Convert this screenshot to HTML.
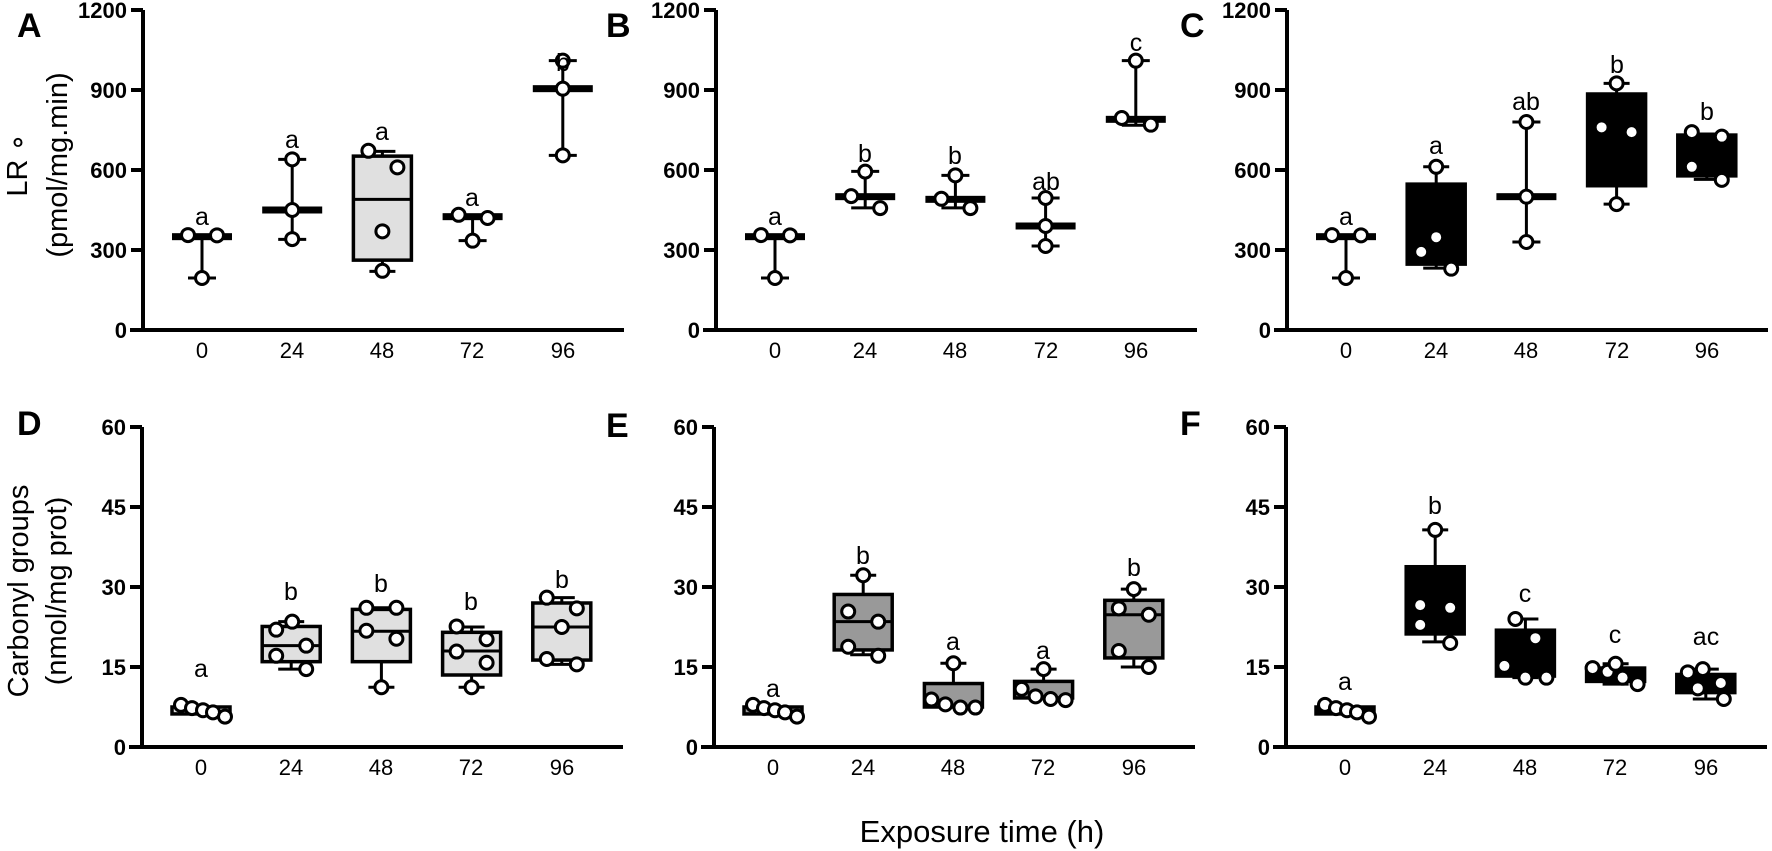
<!DOCTYPE html>
<html><head><meta charset="utf-8"><style>
html,body{margin:0;padding:0;background:#fff;}
svg{display:block;}
.tk{font-family:"Liberation Sans",Arial,sans-serif;font-weight:bold;font-size:22px;text-anchor:end;}
.xl{font-family:"Liberation Sans",Arial,sans-serif;font-size:22px;text-anchor:middle;}
.lt{font-family:"Liberation Sans",Arial,sans-serif;font-size:25px;text-anchor:middle;}
.pl{font-family:"Liberation Sans",Arial,sans-serif;font-weight:bold;font-size:34px;}
.yt{font-family:"Liberation Sans",Arial,sans-serif;font-size:29px;text-anchor:middle;}
</style></head><body>
<svg id="s" width="1772" height="851" xmlns="http://www.w3.org/2000/svg">
<g id="shapes"></g>
<!-- panel labels -->
<text class="pl" x="17" y="37">A</text>
<text class="pl" x="606" y="37">B</text>
<text class="pl" x="1180" y="37">C</text>
<text class="pl" x="17" y="435">D</text>
<text class="pl" x="606" y="437">E</text>
<text class="pl" x="1180" y="435">F</text>
<!-- y titles -->
<text class="yt" transform="translate(18,165) rotate(-90)" dominant-baseline="central">LR ∘</text>
<text class="yt" transform="translate(58,165) rotate(-90)" dominant-baseline="central">(pmol/mg.min)</text>
<text class="yt" transform="translate(19,591) rotate(-90)" dominant-baseline="central">Carbonyl groups</text>
<text class="yt" transform="translate(57,591) rotate(-90)" dominant-baseline="central">(nmol/mg prot)</text>
<!-- x title -->
<text class="yt" x="982" y="842" style="font-size:31px">Exposure time (h)</text>
<!-- top tick labels A -->
<text class="tk" x="127" y="18">1200</text><text class="tk" x="127" y="98">900</text><text class="tk" x="127" y="178">600</text><text class="tk" x="127" y="258">300</text><text class="tk" x="127" y="338">0</text>
<text class="tk" x="700" y="18">1200</text><text class="tk" x="700" y="98">900</text><text class="tk" x="700" y="178">600</text><text class="tk" x="700" y="258">300</text><text class="tk" x="700" y="338">0</text>
<text class="tk" x="1271" y="18">1200</text><text class="tk" x="1271" y="98">900</text><text class="tk" x="1271" y="178">600</text><text class="tk" x="1271" y="258">300</text><text class="tk" x="1271" y="338">0</text>
<!-- bottom tick labels -->
<text class="tk" x="126" y="435">60</text><text class="tk" x="126" y="515">45</text><text class="tk" x="126" y="595">30</text><text class="tk" x="126" y="675">15</text><text class="tk" x="126" y="755">0</text>
<text class="tk" x="698" y="435">60</text><text class="tk" x="698" y="515">45</text><text class="tk" x="698" y="595">30</text><text class="tk" x="698" y="675">15</text><text class="tk" x="698" y="755">0</text>
<text class="tk" x="1270" y="435">60</text><text class="tk" x="1270" y="515">45</text><text class="tk" x="1270" y="595">30</text><text class="tk" x="1270" y="675">15</text><text class="tk" x="1270" y="755">0</text>
<!-- x tick labels -->
<text class="xl" x="202" y="358">0</text><text class="xl" x="292" y="358">24</text><text class="xl" x="382" y="358">48</text><text class="xl" x="472" y="358">72</text><text class="xl" x="563" y="358">96</text>
<text class="xl" x="775" y="358">0</text><text class="xl" x="865" y="358">24</text><text class="xl" x="955" y="358">48</text><text class="xl" x="1046" y="358">72</text><text class="xl" x="1136" y="358">96</text>
<text class="xl" x="1346" y="358">0</text><text class="xl" x="1436" y="358">24</text><text class="xl" x="1526" y="358">48</text><text class="xl" x="1617" y="358">72</text><text class="xl" x="1707" y="358">96</text>
<text class="xl" x="201" y="775">0</text><text class="xl" x="291" y="775">24</text><text class="xl" x="381" y="775">48</text><text class="xl" x="471" y="775">72</text><text class="xl" x="562" y="775">96</text>
<text class="xl" x="773" y="775">0</text><text class="xl" x="863" y="775">24</text><text class="xl" x="953" y="775">48</text><text class="xl" x="1043" y="775">72</text><text class="xl" x="1134" y="775">96</text>
<text class="xl" x="1345" y="775">0</text><text class="xl" x="1435" y="775">24</text><text class="xl" x="1525" y="775">48</text><text class="xl" x="1615" y="775">72</text><text class="xl" x="1706" y="775">96</text>
<!-- significance letters -->
<text class="lt" x="202" y="225">a</text><text class="lt" x="292" y="148">a</text><text class="lt" x="382" y="140">a</text><text class="lt" x="472" y="206">a</text><text class="lt" x="563" y="71">b</text>
<text class="lt" x="775" y="225">a</text><text class="lt" x="865" y="162">b</text><text class="lt" x="955" y="164">b</text><text class="lt" x="1046" y="190">ab</text><text class="lt" x="1136" y="51">c</text>
<text class="lt" x="1346" y="225">a</text><text class="lt" x="1436" y="154">a</text><text class="lt" x="1526" y="110">ab</text><text class="lt" x="1617" y="73">b</text><text class="lt" x="1707" y="120">b</text>
<text class="lt" x="201" y="677">a</text><text class="lt" x="291" y="600">b</text><text class="lt" x="381" y="592">b</text><text class="lt" x="471" y="610">b</text><text class="lt" x="562" y="588">b</text>
<text class="lt" x="773" y="697">a</text><text class="lt" x="863" y="564">b</text><text class="lt" x="953" y="650">a</text><text class="lt" x="1043" y="659">a</text><text class="lt" x="1134" y="576">b</text>
<text class="lt" x="1345" y="690">a</text><text class="lt" x="1435" y="514">b</text><text class="lt" x="1525" y="602">c</text><text class="lt" x="1615" y="643">c</text><text class="lt" x="1706" y="645">ac</text>
</svg>
<script>
(function(){
var g=document.getElementById('shapes'),NS='http://www.w3.org/2000/svg';
function el(t,a){var e=document.createElementNS(NS,t);for(var k in a)e.setAttribute(k,a[k]);g.appendChild(e);return e;}
function ln(x1,y1,x2,y2,w){el('line',{x1:x1,y1:y1,x2:x2,y2:y2,stroke:'#000','stroke-width':w||3});}
function axes(ax,top,bot){
 ln(ax,top,ax,bot+2,4); ln(ax-13,bot,ax+481,bot,4);
 for(var i=0;i<5;i++){var y=top+(bot-top)*i/4; ln(ax-12,y,ax,y,4);}
}
function panel(ax,top,bot,max,fill,groups){
 axes(ax,top,bot);
 var sc=(bot-top)/max; function Y(v){return bot-v*sc;}
 groups.forEach(function(gr,i){
  var c=ax+59+90.2*i;
  var lo=gr.lo,hi=gr.hi;
  if(gr.box){
   ln(c,Y(hi),c,Y(gr.box[1]),3); ln(c,Y(gr.box[0]),c,Y(lo),3);
   ln(c-13,Y(hi),c+13,Y(hi),3); ln(c-13,Y(lo),c+13,Y(lo),3);
   el('rect',{x:c-29,y:Y(gr.box[1]),width:58,height:Y(gr.box[0])-Y(gr.box[1]),fill:fill,stroke:'#000','stroke-width':3.5});
   if(gr.med!=null) ln(c-29,Y(gr.med),c+29,Y(gr.med),3);
  } else {
   ln(c,Y(hi),c,Y(lo),3);
   ln(c-14,Y(hi),c+14,Y(hi),3); ln(c-14,Y(lo),c+14,Y(lo),3);
   el('rect',{x:c-30,y:Y(gr.med)-3.5,width:60,height:7,fill:'#000'});
  }
  gr.p.forEach(function(p){el('circle',{cx:c+p[0],cy:Y(p[1]),r:6.5,fill:'#fff',stroke:'#000','stroke-width':3});});
 });
}
var z0top={lo:195,hi:355,med:350,p:[[-14,356],[15,355],[0,195]]};
panel(143,10,330,1200,'#e0e0e0',[
 z0top,
 {lo:340,hi:640,med:450,p:[[0,640],[0,450],[0,341]]},
 {box:[262,652],med:490,lo:220,hi:670,p:[[-14,672],[15,610],[0,370],[0,222]]},
 {lo:335,hi:430,med:425,p:[[-14,432],[15,420],[0,335]]},
 {lo:655,hi:1010,med:905,p:[[0,1010],[0,905],[0,655]]}
]);
panel(716,10,330,1200,'#999',[
 z0top,
 {lo:458,hi:595,med:500,p:[[0,594],[-14,502],[15,457]]},
 {lo:458,hi:580,med:490,p:[[0,580],[-14,492],[15,457]]},
 {lo:315,hi:495,med:390,p:[[0,495],[0,390],[0,315]]},
 {lo:768,hi:1010,med:790,p:[[0,1010],[-14,795],[15,770]]}
]);
panel(1287,10,330,1200,'#000',[
 z0top,
 {box:[247,547],med:null,lo:232,hi:612,p:[[0,612],[0,348],[-15,293],[15,230]]},
 {lo:330,hi:780,med:500,p:[[0,780],[0,500],[0,330]]},
 {box:[541,885],med:null,lo:472,hi:925,p:[[0,925],[-15,760],[15,742],[0,472]]},
 {box:[578,731],med:null,lo:565,hi:735,p:[[-15,742],[15,725],[-15,612],[15,563]]}
]);
var z0b={box:[6.2,7.5],med:null,lo:6.2,hi:7.5,p:[[-20,7.9],[-9,7.3],[2,6.9],[12,6.5],[24,5.7]]};
function z0(){return JSON.parse(JSON.stringify(z0b));}
panel(142,427,747,60,'#e0e0e0',[
 z0(),
 {box:[16,22.6],med:19,lo:14.6,hi:23.5,p:[[1,23.5],[-15,22],[15,19],[-15,17.1],[15,14.6]]},
 {box:[16,25.8],med:21.7,lo:11.2,hi:26.1,p:[[-15,26.1],[15,26.1],[-15,21.8],[15,20.3],[0,11.2]]},
 {box:[13.5,21.5],med:18,lo:11.2,hi:22.5,p:[[-15,22.6],[15,20.2],[-15,17.9],[15,15.8],[0,11.2]]},
 {box:[16.3,27],med:22.5,lo:15.5,hi:28,p:[[-15,28],[15,26],[0,22.5],[-15,16.5],[15,15.5]]}
]);
panel(714,427,747,60,'#999',[
 z0(),
 {box:[18.2,28.6],med:23.5,lo:17.3,hi:32.2,p:[[0,32.2],[-15,25.4],[15,23.5],[-15,18.8],[15,17.1]]},
 {box:[7.5,11.9],med:null,lo:7.5,hi:15.7,p:[[0,15.7],[-22,8.9],[-8,8.0],[7,7.4],[22,7.4]]},
 {box:[9.2,12.3],med:null,lo:9.2,hi:14.6,p:[[0,14.6],[-22,10.9],[-8,9.5],[7,9.0],[22,8.8]]},
 {box:[16.7,27.5],med:24.8,lo:15,hi:29.6,p:[[0,29.6],[-15,26],[15,24.8],[-15,18],[15,15]]}
]);
panel(1286,427,747,60,'#000',[
 z0(),
 {box:[21.2,33.8],med:null,lo:19.7,hi:40.7,p:[[0,40.7],[-15,26.6],[15,26.1],[-15,22.9],[15,19.5]]},
 {box:[13.3,21.9],med:null,lo:13,hi:24,p:[[-10,24],[10,20.4],[-21,15.2],[0,13],[21,13]]},
 {box:[12.3,14.8],med:null,lo:11.8,hi:15.6,p:[[-23,14.8],[-8,14.1],[0,15.6],[7,13],[22,11.8]]},
 {box:[10.2,13.6],med:null,lo:9,hi:14.6,p:[[-18,14],[-3,14.6],[15,12],[-8,11],[18,9]]}
]);
})();
</script>
</body></html>
